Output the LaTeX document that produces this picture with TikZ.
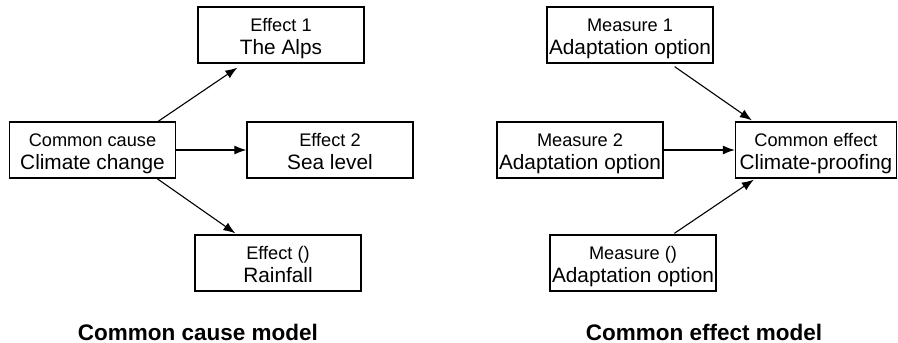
\documentclass[tikz,border=0pt]{standalone}
\usepackage{fontspec}
\setmainfont{Liberation Sans}
\usetikzlibrary{arrows.meta}
\newcommand{\twolines}[2]{{\fontsize{18.2}{22.6}\selectfont\rule{0pt}{24.7pt}#1}\\{\fontsize{20.8}{22.6}\selectfont #2\rule[-8.7pt]{0pt}{8.7pt}}}
\begin{document}
\begin{tikzpicture}[x=1pt, y=-1pt, >={Latex[length=12pt,width=9pt]},
  box/.style={draw, line width=1.3pt, minimum width=166pt, minimum height=56pt, inner sep=0pt, align=center,
    font=\fontsize{20.8}{22.6}\selectfont},
  arr/.style={->, line width=1.1pt},
  title/.style={anchor=base, font=\fontsize{22.5}{26}\selectfont\bfseries}]
\useasboundingbox (0,0) rectangle (898,343);
% common cause model
\node [box] (cc) at (92.5,150) {\twolines{Common cause}{Climate change}};
\node [box] (e1) at (281,35) {\twolines{Effect 1}{The Alps}};
\node [box] (e2) at (330,150) {\twolines{Effect 2}{Sea level}};
\node [box] (e3) at (278,263) {\twolines{Effect ()}{Rainfall}};
\draw [arr] ([xshift=-18pt]cc.north east)--([xshift=40pt,yshift=-4pt]e1.south west);
\draw [arr] (cc.east)--(e2.west);
\draw [arr] ([xshift=-19pt]cc.south east)--([xshift=41pt,yshift=1pt]e3.north west);
\node [title] (t1) at (198,340) {Common cause model};
% common effect model
\node [box, minimum width=161pt] (ce) at (816,150) {\twolines{Common effect}{Climate-proofing}};
\node [box] (m1) at (630,35) {\twolines{Measure 1}{Adaptation option}};
\node [box] (m2) at (580,150) {\twolines{Measure 2}{Adaptation option}};
\node [box] (m3) at (633,263) {\twolines{Measure ()}{Adaptation option}};
\draw [arr] ([xshift=-39pt,yshift=-3pt]m1.south east)--([xshift=17pt,yshift=1pt]ce.north west);
\draw [arr] (m2.east)--(ce.west);
\draw [arr] ([xshift=125pt,yshift=1pt]m3.north west)--([xshift=19pt,yshift=-1pt]ce.south west);
\node [title] (t2) at (704,340) {Common effect model};
\end{tikzpicture}
\end{document}
